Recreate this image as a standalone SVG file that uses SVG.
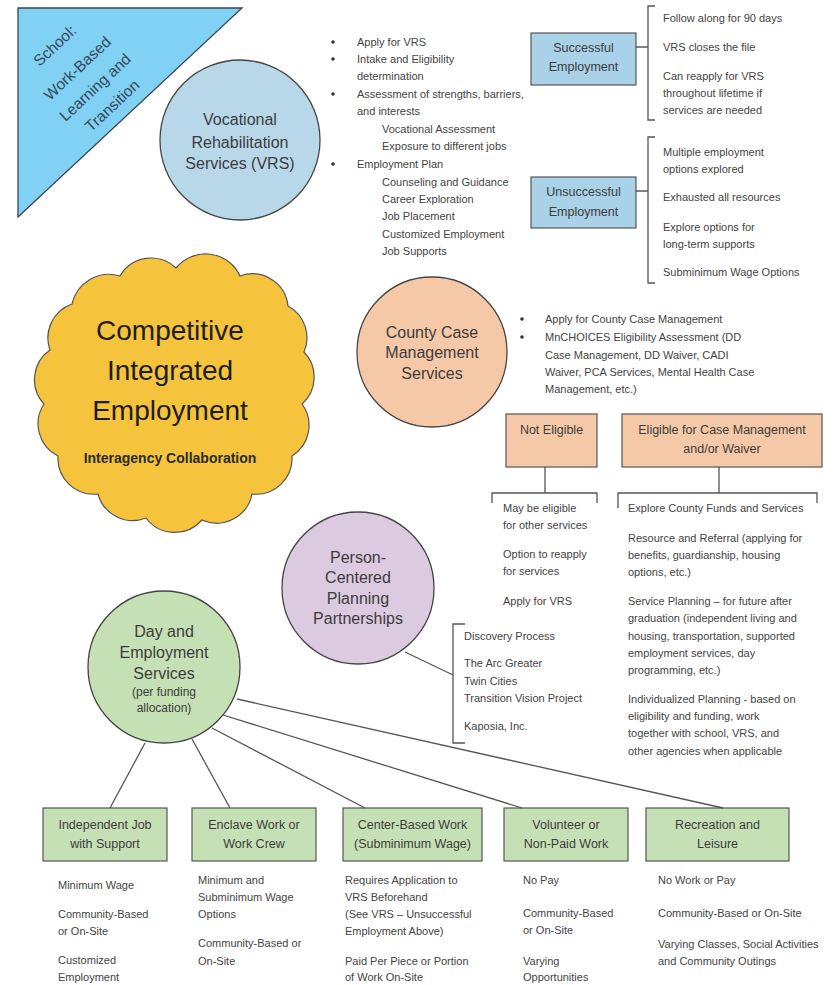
<svg xmlns="http://www.w3.org/2000/svg" width="837" height="985" viewBox="0 0 837 985">
<defs>
<style>
text{font-family:"Liberation Sans",Arial,sans-serif;}
.s{font-size:11px;fill:#444;}
.c{font-size:16px;fill:#3c3c3c;text-anchor:middle;}
.b{font-size:12.5px;fill:#3c3c3c;text-anchor:middle;}
.bx{stroke:#555;stroke-width:1.2;}
.ln{stroke:#555;stroke-width:1.3;fill:none;}
.blue{fill:#a9d1e7;}
.peach{fill:#f5c9a8;}
.green{fill:#c6e0b5;}
</style>
</defs>
<rect width="837" height="985" fill="#ffffff"/>

<g id="school">
<polygon points="18,8 242,8 18,217" fill="#80d1f3" stroke="#3a4550" stroke-width="1.3"/>
<g transform="rotate(-43)" font-size="15.5" fill="#34495a" text-anchor="middle">
<text x="9" y="76">School:</text>
<text x="10" y="108">Work-Based</text>
<text x="10" y="134">Learning and</text>
<text x="10" y="159">Transition</text>
</g>
</g>

<g id="vrs">
<circle cx="240" cy="140" r="80" fill="#b8d8ea" stroke="#444" stroke-width="1.3"/>
<text class="c" x="240" y="125">Vocational</text>
<text class="c" x="240" y="148">Rehabilitation</text>
<text class="c" x="240" y="169">Services (VRS)</text>
</g>

<g id="vrs-steps" class="s">
<circle cx="333" cy="42" r="1.8" fill="#333"/>
<circle cx="333" cy="59" r="1.8" fill="#333"/>
<circle cx="333" cy="94" r="1.8" fill="#333"/>
<circle cx="333" cy="164" r="1.8" fill="#333"/>
<text class="s" x="357" y="46">Apply for VRS</text>
<text class="s" x="357" y="63">Intake and Eligibility</text>
<text class="s" x="357" y="80">determination</text>
<text class="s" x="357" y="98">Assessment of strengths, barriers,</text>
<text class="s" x="357" y="115">and interests</text>
<text class="s" x="382" y="133">Vocational Assessment</text>
<text class="s" x="382" y="150">Exposure to different jobs</text>
<text class="s" x="357" y="168">Employment Plan</text>
<text class="s" x="382" y="186">Counseling and Guidance</text>
<text class="s" x="382" y="203">Career Exploration</text>
<text class="s" x="382" y="220">Job Placement</text>
<text class="s" x="382" y="238">Customized Employment</text>
<text class="s" x="382" y="255">Job Supports</text>
</g>

<g id="successful">
<rect class="bx blue" x="531" y="33" width="105" height="52"/>
<text class="b" x="583.5" y="52">Successful</text>
<text class="b" x="583.5" y="71">Employment</text>
</g>
<g id="successful-notes">
<text class="s" x="663" y="22">Follow along for 90 days</text>
<text class="s" x="663" y="51">VRS closes the file</text>
<text class="s" x="663" y="80">Can reapply for VRS</text>
<text class="s" x="663" y="97">throughout lifetime if</text>
<text class="s" x="663" y="114">services are needed</text>
</g>

<g id="unsuccessful">
<rect class="bx blue" x="531" y="177" width="105" height="51"/>
<text class="b" x="583.5" y="196">Unsuccessful</text>
<text class="b" x="583.5" y="216">Employment</text>
</g>
<g id="unsuccessful-notes">
<text class="s" x="663" y="156">Multiple employment</text>
<text class="s" x="663" y="173">options explored</text>
<text class="s" x="663" y="201">Exhausted all resources</text>
<text class="s" x="663" y="231">Explore options for</text>
<text class="s" x="663" y="248">long-term supports</text>
<text class="s" x="663" y="276">Subminimum Wage Options</text>
</g>

<g id="cie">
<path d="M176,268 A38,38 0 0 1 240,276 A36,36 0 0 1 288,306 A36,36 0 0 1 304,352 A36,36 0 0 1 302,404 A36,36 0 0 1 292,456 A36,36 0 0 1 252,494 A36,36 0 0 1 202,520 A36,36 0 0 1 146,518 A36,36 0 0 1 98,494 A36,36 0 0 1 58,456 A36,36 0 0 1 44,404 A36,36 0 0 1 50,350 A36,36 0 0 1 72,304 A38,38 0 0 1 120,276 A36,36 0 0 1 176,268 Z" fill="#f5c33c" stroke="#555" stroke-width="1.2"/>
<text x="170" y="340" font-size="28" fill="#1e1e1e" text-anchor="middle">Competitive</text>
<text x="170" y="380" font-size="28" fill="#1e1e1e" text-anchor="middle">Integrated</text>
<text x="170" y="420" font-size="28" fill="#1e1e1e" text-anchor="middle">Employment</text>
<text x="170" y="463" font-size="14" font-weight="bold" fill="#2a2a2a" text-anchor="middle">Interagency Collaboration</text>
</g>

<g id="county">
<circle cx="432" cy="352" r="75" fill="#f5c9a8" stroke="#444" stroke-width="1.3"/>
<text class="c" x="432" y="338">County Case</text>
<text class="c" x="432" y="358">Management</text>
<text class="c" x="432" y="379">Services</text>
</g>
<g id="county-steps">
<circle cx="522" cy="319" r="1.8" fill="#333"/>
<circle cx="522" cy="337" r="1.8" fill="#333"/>
<text class="s" x="545" y="323">Apply for County Case Management</text>
<text class="s" x="545" y="341">MnCHOICES Eligibility Assessment (DD</text>
<text class="s" x="545" y="359">Case Management, DD Waiver, CADI</text>
<text class="s" x="545" y="376">Waiver, PCA Services, Mental Health Case</text>
<text class="s" x="545" y="393">Management, etc.)</text>
</g>

<g id="not-eligible">
<rect class="bx peach" x="506" y="414" width="91" height="53"/>
<text class="b" x="551.5" y="434">Not Eligible</text>
</g>
<g id="not-eligible-notes">
<text class="s" x="503" y="512">May be eligible</text>
<text class="s" x="503" y="529">for other services</text>
<text class="s" x="503" y="558">Option to reapply</text>
<text class="s" x="503" y="575">for services</text>
<text class="s" x="503" y="605">Apply for VRS</text>
</g>

<g id="eligible">
<rect class="bx peach" x="622" y="414" width="200" height="53"/>
<text class="b" x="722" y="434">Eligible for Case Management</text>
<text class="b" x="722" y="453">and/or Waiver</text>
</g>
<g id="eligible-notes">
<text class="s" x="628" y="512">Explore County Funds and Services</text>
<text class="s" x="628" y="542">Resource and Referral (applying for</text>
<text class="s" x="628" y="559">benefits, guardianship, housing</text>
<text class="s" x="628" y="576">options, etc.)</text>
<text class="s" x="628" y="605">Service Planning – for future after</text>
<text class="s" x="628" y="622">graduation (independent living and</text>
<text class="s" x="628" y="640">housing, transportation, supported</text>
<text class="s" x="628" y="657">employment services, day</text>
<text class="s" x="628" y="674">programming, etc.)</text>
<text class="s" x="628" y="703">Individualized Planning - based on</text>
<text class="s" x="628" y="720">eligibility and funding, work</text>
<text class="s" x="628" y="737">together with school, VRS, and</text>
<text class="s" x="628" y="755">other agencies when applicable</text>
</g>

<g id="person-centered">
<circle cx="358" cy="588" r="76" fill="#dccae0" stroke="#444" stroke-width="1.3"/>
<text class="c" x="358" y="563">Person-</text>
<text class="c" x="358" y="583">Centered</text>
<text class="c" x="358" y="604">Planning</text>
<text class="c" x="358" y="624">Partnerships</text>
</g>
<g id="person-centered-notes">
<text class="s" x="464" y="640">Discovery Process</text>
<text class="s" x="464" y="667">The Arc Greater</text>
<text class="s" x="464" y="685">Twin Cities</text>
<text class="s" x="464" y="702">Transition Vision Project</text>
<text class="s" x="464" y="730">Kaposia, Inc.</text>
</g>

<g id="day-employment">
<circle cx="164" cy="667" r="76" fill="#c6e0b5" stroke="#444" stroke-width="1.3"/>
<text class="c" x="164" y="637">Day and</text>
<text class="c" x="164" y="658">Employment</text>
<text class="c" x="164" y="679">Services</text>
<text x="164" y="696" font-size="12" fill="#3c3c3c" text-anchor="middle">(per funding</text>
<text x="164" y="712" font-size="12" fill="#3c3c3c" text-anchor="middle">allocation)</text>
</g>

<g id="independent-job">
<rect class="bx green" x="43" y="808" width="124" height="53"/>
<text class="b" x="105" y="829">Independent Job</text>
<text class="b" x="105" y="848">with Support</text>
<text class="s" x="58" y="889">Minimum Wage</text>
<text class="s" x="58" y="918">Community-Based</text>
<text class="s" x="58" y="935">or On-Site</text>
<text class="s" x="58" y="964">Customized</text>
<text class="s" x="58" y="981">Employment</text>
</g>
<g id="enclave">
<rect class="bx green" x="192" y="808" width="124" height="53"/>
<text class="b" x="254" y="829">Enclave Work or</text>
<text class="b" x="254" y="848">Work Crew</text>
<text class="s" x="198" y="884">Minimum and</text>
<text class="s" x="198" y="901">Subminimum Wage</text>
<text class="s" x="198" y="918">Options</text>
<text class="s" x="198" y="947">Community-Based or</text>
<text class="s" x="198" y="965">On-Site</text>
</g>
<g id="center-based">
<rect class="bx green" x="343" y="808" width="139" height="53"/>
<text class="b" x="412.5" y="829">Center-Based Work</text>
<text class="b" x="412.5" y="848">(Subminimum Wage)</text>
<text class="s" x="345" y="884">Requires Application to</text>
<text class="s" x="345" y="901">VRS Beforehand</text>
<text class="s" x="345" y="918">(See VRS – Unsuccessful</text>
<text class="s" x="345" y="935">Employment Above)</text>
<text class="s" x="345" y="965">Paid Per Piece or Portion</text>
<text class="s" x="345" y="981">of Work On-Site</text>
</g>
<g id="volunteer">
<rect class="bx green" x="504" y="808" width="124" height="53"/>
<text class="b" x="566" y="829">Volunteer or</text>
<text class="b" x="566" y="848">Non-Paid Work</text>
<text class="s" x="523" y="884">No Pay</text>
<text class="s" x="523" y="917">Community-Based</text>
<text class="s" x="523" y="934">or On-Site</text>
<text class="s" x="523" y="965">Varying</text>
<text class="s" x="523" y="981">Opportunities</text>
</g>
<g id="recreation">
<rect class="bx green" x="646" y="808" width="143" height="53"/>
<text class="b" x="717.5" y="829">Recreation and</text>
<text class="b" x="717.5" y="848">Leisure</text>
<text class="s" x="658" y="884">No Work or Pay</text>
<text class="s" x="658" y="917">Community-Based or On-Site</text>
<text class="s" x="658" y="948">Varying Classes, Social Activities</text>
<text class="s" x="658" y="965">and Community Outings</text>
</g>

<g id="connectors" class="ln">
<path d="M636,47 H648 M655,6 H648 V120 H655"/>
<path d="M636,191 H648 M655,137 H648 V283 H655"/>
<path d="M545,467 V493 M492,503 V493 H597 V503"/>
<path d="M719,467 V493 M618,508 V493 H817 V503"/>
<path d="M405,652 L453,675 M465,624 H453 V743 H465"/>
<path d="M145,743 L110,808"/>
<path d="M192,739 L230,808"/>
<path d="M212,728 L365,808"/>
<path d="M223,715 L522,808"/>
<path d="M237,699 L723,808"/>
</g>
</svg>
